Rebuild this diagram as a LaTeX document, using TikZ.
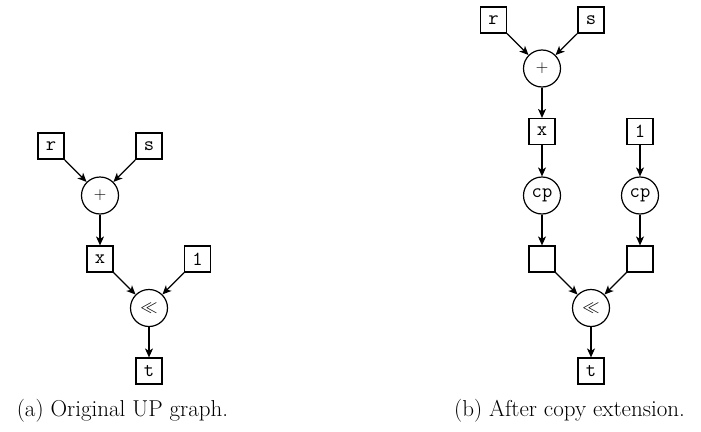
\documentclass[tikz,border=0pt]{standalone}
\usepackage{fontspec}
\usetikzlibrary{arrows.meta}
\begin{document}
\begin{tikzpicture}[x=1pt,y=-1pt,
  vbox/.style={draw,line width=1.2pt,minimum size=26pt,inner sep=0pt,font=\fontsize{20}{24}\selectfont\ttfamily},
  opnode/.style={draw,circle,line width=1.2pt,minimum size=37pt,inner sep=0pt,font=\fontsize{18}{22}\selectfont},
  cpnode/.style={draw,circle,line width=1.2pt,minimum size=37pt,inner sep=0pt,font=\fontsize{20}{24}\selectfont\ttfamily},
  conn/.style={line width=1.2pt,-{Stealth[length=9pt,width=8pt,inset=2.5pt]}},
  captext/.style={font=\fontsize{23}{27}\selectfont}]
\useasboundingbox (0,0) rectangle (701,431);
% (a)
\node[vbox] (ar) at (51,146) {r};
\node[vbox] (as) at (149,146) {s};
\node[opnode] (aplus) at (100,195.5) {$+$};
\node[vbox] (ax) at (100,259) {x};
\node[vbox] (a1) at (197.5,259) {1};
\node[opnode] (ashl) at (149,308) {$\ll$};
\node[vbox] (at) at (149,371) {t};
\draw[conn] (ar) -- (aplus);
\draw[conn] (as) -- (aplus);
\draw[conn] (aplus) -- (ax);
\draw[conn] (ax) -- (ashl);
\draw[conn] (a1) -- (ashl);
\draw[conn] (ashl) -- (at);
\node[captext] (capa) at (122.5,411) {(a) Original UP graph.};
% (b)
\node[vbox] (br) at (493.5,20) {r};
\node[vbox] (bs) at (591,20) {s};
\node[opnode] (bplus) at (542,68.5) {$+$};
\node[vbox] (bx) at (542,131.5) {x};
\node[vbox] (b1) at (640,131.5) {1};
\node[cpnode] (bcp1) at (542,195.5) {cp};
\node[cpnode] (bcp2) at (640,195.5) {cp};
\node[vbox] (be1) at (542,259) {};
\node[vbox] (be2) at (640,259) {};
\node[opnode] (bshl) at (591,308) {$\ll$};
\node[vbox] (bt) at (591,371) {t};
\draw[conn] (br) -- (bplus);
\draw[conn] (bs) -- (bplus);
\draw[conn] (bplus) -- (bx);
\draw[conn] (bx) -- (bcp1);
\draw[conn] (b1) -- (bcp2);
\draw[conn] (bcp1) -- (be1);
\draw[conn] (bcp2) -- (be2);
\draw[conn] (be1) -- (bshl);
\draw[conn] (be2) -- (bshl);
\draw[conn] (bshl) -- (bt);
\node[captext] (capb) at (569.5,411) {(b) After copy extension.};
\end{tikzpicture}
\end{document}
